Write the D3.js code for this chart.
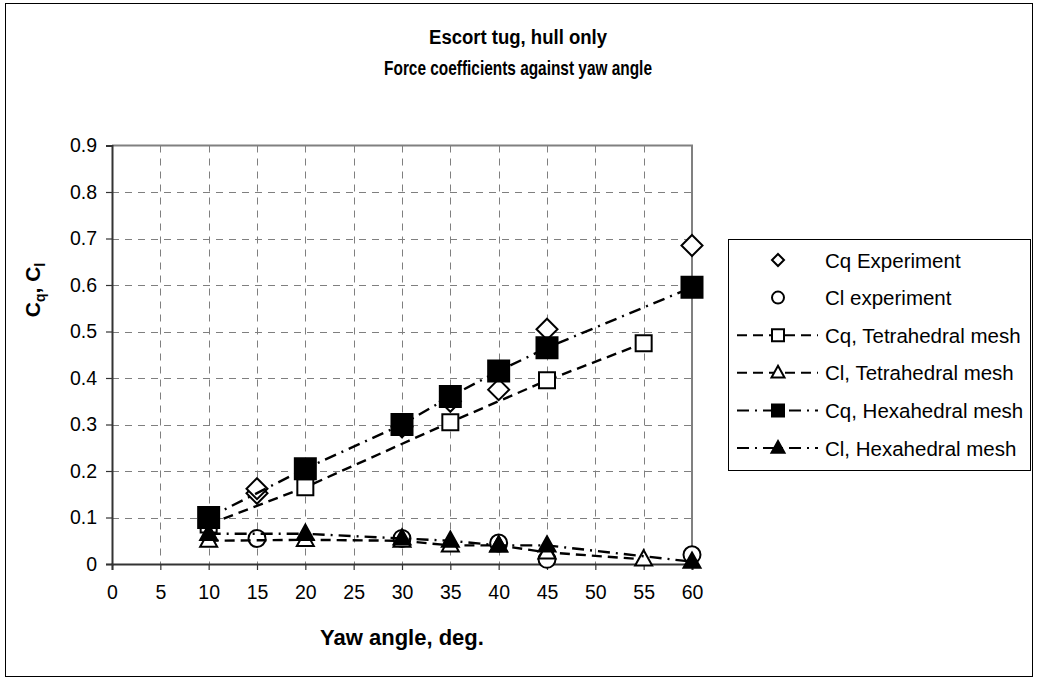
<!DOCTYPE html>
<html>
<head>
<meta charset="utf-8">
<script src="https://cdn.jsdelivr.net/npm/d3@7"></script>
<style>
  html, body { margin: 0; padding: 0; background: #fff; }
  svg { display: block; font-family: "Liberation Sans", Arial, sans-serif; }
</style>
</head>
<body>
<svg id="chart" width="1037" height="681"></svg>
<script>
// Yaw angles (deg.) and force coefficients for each series
const cqExpAngle = [15, 15, 30, 35, 40, 45, 60];
const cqExp      = [0.152, 0.162, 0.295, 0.35, 0.375, 0.505, 0.685];

const clExpAngle = [15, 30, 40, 45, 60];
const clExp      = [0.055, 0.055, 0.045, 0.01, 0.02];

const tetraCqAngle = [10, 20, 35, 45, 55];
const tetraCq      = [0.085, 0.165, 0.305, 0.395, 0.475];

const tetraClAngle = [10, 20, 30, 35, 40, 45, 55];
const tetraCl      = [0.05, 0.052, 0.05, 0.04, 0.04, 0.025, 0.01];

const hexAngle = [10, 20, 30, 35, 40, 45, 60];
const hexCq    = [0.10, 0.205, 0.30, 0.36, 0.415, 0.465, 0.595];
const hexCl    = [0.065, 0.065, 0.055, 0.05, 0.04, 0.04, 0.005];

const xTicks = [0, 5, 10, 15, 20, 25, 30, 35, 40, 45, 50, 55, 60];
const yTicks = [0, 0.1, 0.2, 0.3, 0.4, 0.5, 0.6, 0.7, 0.8, 0.9];

const seriesNames = [
  "Cq Experiment", "Cl experiment",
  "Cq, Tetrahedral mesh", "Cl, Tetrahedral mesh",
  "Cq, Hexahedral mesh", "Cl, Hexahedral mesh"
];

const titleLines = ["Escort tug, hull only", "Force coefficients against yaw angle"];

const svg = d3.select("#chart");

// outer chart frame
svg.append("rect")
  .attr("x", 5.5).attr("y", 3.5)
  .attr("width", 1027).attr("height", 673)
  .attr("fill", "#fff").attr("stroke", "#000").attr("stroke-width", 1);

const plot = { left: 112, right: 692, top: 145.5, bottom: 564 };

const x = d3.scaleLinear().domain([0, 60]).range([plot.left, plot.right]);
const y = d3.scaleLinear().domain([0, 0.9]).range([plot.bottom, plot.top]);

// dashed grid
const grid = svg.append("g").attr("stroke", "#7f7f7f").attr("stroke-width", 1)
  .attr("stroke-dasharray", "7,6").attr("fill", "none");
grid.selectAll("line.h").data(yTicks.filter(v => v > 0 && v < 0.9)).join("line")
  .attr("class", "h")
  .attr("x1", plot.left).attr("x2", plot.right)
  .attr("y1", d => Math.round(y(d)) + 0.5).attr("y2", d => Math.round(y(d)) + 0.5);
grid.selectAll("line.v").data(xTicks.filter(v => v > 0 && v < 60)).join("line")
  .attr("class", "v")
  .attr("y1", plot.top).attr("y2", plot.bottom)
  .attr("x1", d => Math.round(x(d)) + 0.5).attr("x2", d => Math.round(x(d)) + 0.5);

// top and right plot border
svg.append("path")
  .attr("d", `M${plot.left},${plot.top}H${plot.right}V${plot.bottom}`)
  .attr("fill", "none").attr("stroke", "#808080").attr("stroke-width", 2);

// axes
const xAxis = d3.axisBottom(x).tickValues(xTicks).tickSize(6).tickPadding(15)
  .tickFormat(d3.format("d"));
const gx = svg.append("g").attr("transform", `translate(0,${plot.bottom})`).call(xAxis);
const yAxis = d3.axisLeft(y).tickValues(yTicks).tickSize(6).tickPadding(9)
  .tickFormat(d => d === 0 ? "0" : d3.format(".1f")(d));
const gy = svg.append("g").attr("transform", `translate(${plot.left},0)`).call(yAxis);

[gx, gy].forEach(g => {
  g.select(".domain").attr("stroke", "#333").attr("stroke-width", 2);
  g.selectAll(".tick line").attr("stroke", "#333").attr("stroke-width", 1.2);
  g.selectAll(".tick text")
    .attr("font-family", "'Liberation Sans', Arial, sans-serif")
    .attr("font-size", 19.5).attr("fill", "#000");
});

// marker shapes
function markerPath(type, s) {
  const h = s / 2;
  switch (type) {
    case "diamond": return `M0,${-h}L${h},0L0,${h}L${-h},0Z`;
    case "square": return `M${-h},${-h}H${h}V${h}H${-h}Z`;
    case "triangle": {
      const th = s * 0.9;
      return `M0,${-th * 0.6}L${h},${th * 0.4}L${-h},${th * 0.4}Z`;
    }
    case "circle": return d3.arc()({ innerRadius: 0, outerRadius: h, startAngle: 0, endAngle: 2 * Math.PI });
  }
}

const series = [
  { name: seriesNames[0], xs: cqExpAngle, ys: cqExp, dash: null, shape: "diamond", fill: "#fff", size: 21, legendSize: 12 },
  { name: seriesNames[1], xs: clExpAngle, ys: clExp, dash: null, shape: "circle", fill: "#fff", size: 17, legendSize: 12 },
  { name: seriesNames[2], xs: tetraCqAngle, ys: tetraCq, dash: "10,6", shape: "square", fill: "#fff", size: 16, legendSize: 12 },
  { name: seriesNames[3], xs: tetraClAngle, ys: tetraCl, dash: "10,6", shape: "triangle", fill: "#fff", size: 17, legendSize: 13 },
  { name: seriesNames[4], xs: hexAngle, ys: hexCq, dash: "12,6,2,6", shape: "square", fill: "#000", size: 21, legendSize: 12 },
  { name: seriesNames[5], xs: hexAngle, ys: hexCl, dash: "12,6,2,6", shape: "triangle", fill: "#000", size: 17, legendSize: 13 }
];

const line = d3.line().x(d => x(d[0])).y(d => y(d[1]));

series.forEach(s => {
  const pts = s.xs.map((a, i) => [a, s.ys[i]]);
  const g = svg.append("g");
  if (s.dash) {
    g.append("path").datum(pts).attr("d", line)
      .attr("fill", "none").attr("stroke", "#000").attr("stroke-width", 2.4)
      .attr("stroke-dasharray", s.dash);
  }
  g.selectAll("path.mk").data(pts).join("path")
    .attr("class", "mk")
    .attr("transform", d => `translate(${x(d[0])},${y(d[1])})`)
    .attr("d", markerPath(s.shape, s.size))
    .attr("fill", s.fill).attr("stroke", "#000").attr("stroke-width", 2);
});

// titles: bold face squeezed horizontally to a narrow width
const titleWidths = [178, 268];
titleLines.forEach((t, i) => {
  const txt = svg.append("text")
    .attr("font-weight", "bold").attr("font-size", 20)
    .attr("text-anchor", "middle")
    .text(t);
  const natural = txt.node().getComputedTextLength();
  const sx = titleWidths[i] / natural;
  txt.attr("transform", `translate(518,${44 + i * 31}) scale(${sx},1)`);
});

svg.append("text")
  .attr("x", 402).attr("y", 645)
  .attr("text-anchor", "middle").attr("font-weight", "bold").attr("font-size", 22)
  .text("Yaw angle, deg.");

// rotated y-axis title with subscripts
const yt = svg.append("text")
  .attr("transform", "translate(40,290) rotate(-90)")
  .attr("text-anchor", "middle").attr("font-weight", "bold").attr("font-size", 21);
yt.append("tspan").text("C");
yt.append("tspan").attr("font-size", 14).attr("dy", 5).text("q");
yt.append("tspan").attr("dy", -5).text(", C");
yt.append("tspan").attr("font-size", 14).attr("dy", 5).text("l");

// legend
const legend = svg.append("g");
legend.append("rect")
  .attr("x", 728.5).attr("y", 239.5).attr("width", 302).attr("height", 231)
  .attr("fill", "#fff").attr("stroke", "#000").attr("stroke-width", 1);

const ly = d3.scalePoint().domain(seriesNames).range([260, 448]);
series.forEach(s => {
  const cy = ly(s.name);
  const g = legend.append("g");
  if (s.dash) {
    g.append("line").attr("x1", 737).attr("x2", 818).attr("y1", cy).attr("y2", cy)
      .attr("stroke", "#000").attr("stroke-width", 2).attr("stroke-dasharray", s.dash);
  }
  g.append("path")
    .attr("transform", `translate(778,${cy})`)
    .attr("d", markerPath(s.shape, s.legendSize))
    .attr("fill", s.fill).attr("stroke", "#000").attr("stroke-width", 2);
  g.append("text").attr("x", 825).attr("y", cy + 7.5)
    .attr("font-size", 20.5).text(s.name);
});
</script>
</body>
</html>
